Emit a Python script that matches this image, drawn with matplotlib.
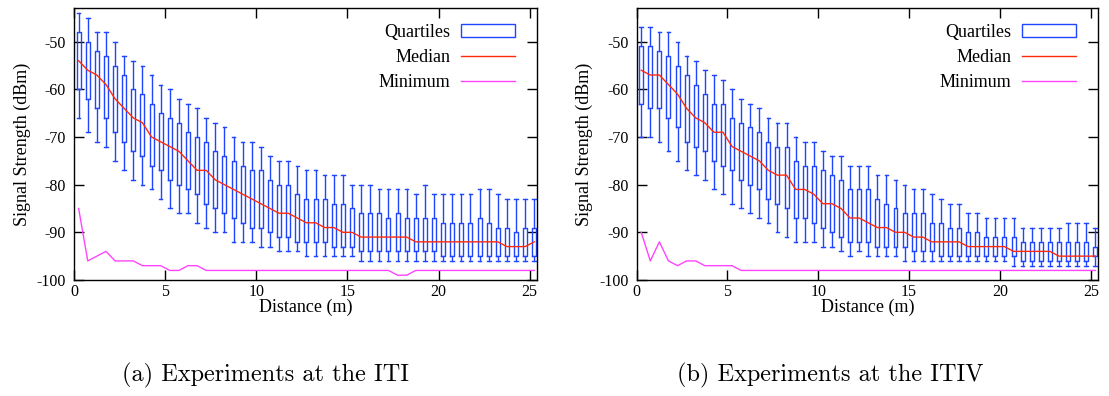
import matplotlib
matplotlib.use("Agg")
import matplotlib.pyplot as plt
from matplotlib.patches import Patch
from matplotlib.lines import Line2D
import numpy as np

# distance bins (m), one box every 0.5 m
distance = np.arange(0.25, 25.3, 0.5)

# --- ITI experiments (dBm) ---
iti_whishi = [-44, -45, -48, -48, -50, -53, -54, -55, -57, -59, -60, -62, -63, -64, -66, -67, -68,
              -70, -71, -71, -72, -74, -75, -75, -76, -77, -77, -78, -78, -78, -80, -80, -80, -81,
              -81, -81, -81, -82, -80, -82, -82, -82, -82, -82, -81, -81, -82, -83, -83, -83, -83]
iti_q3 = [-48, -50, -52, -53, -55, -57, -60, -61, -63, -65, -66, -67, -69, -70, -71, -73, -74,
          -75, -76, -77, -77, -79, -80, -80, -82, -83, -83, -83, -84, -84, -85, -86, -86, -86,
          -87, -86, -87, -87, -87, -87, -88, -88, -88, -88, -87, -88, -89, -89, -90, -89, -89]
iti_q1 = [-60, -62, -64, -66, -69, -71, -73, -74, -76, -77, -79, -80, -81, -82, -84, -85, -86,
          -87, -88, -89, -89, -90, -91, -91, -92, -92, -92, -92, -93, -93, -93, -94, -94, -94,
          -94, -94, -94, -94, -94, -94, -95, -95, -95, -95, -95, -95, -95, -95, -95, -95, -95]
iti_whislo = [-66, -69, -71, -72, -75, -77, -79, -80, -81, -83, -85, -86, -86, -88, -89, -90, -90,
              -92, -92, -92, -93, -93, -94, -94, -94, -95, -95, -95, -95, -95, -95, -96, -96, -96,
              -96, -96, -96, -96, -96, -96, -96, -96, -96, -96, -96, -96, -96, -96, -96, -96, -96]
iti_median = [-54, -56, -57, -59, -62, -64, -66, -67, -70, -71, -72, -73, -75, -77, -77, -79, -80,
              -81, -82, -83, -84, -85, -86, -86, -87, -88, -88, -89, -89, -90, -90, -91, -91, -91,
              -91, -91, -91, -92, -92, -92, -92, -92, -92, -92, -92, -92, -92, -93, -93, -93, -92]
iti_minimum = [-85, -96, -95, -94, -96, -96, -96, -97, -97, -97, -98, -98, -97, -97, -98, -98, -98,
               -98, -98, -98, -98, -98, -98, -98, -98, -98, -98, -98, -98, -98, -98, -98, -98, -98,
               -98, -99, -99, -98, -98, -98, -98, -98, -98, -98, -98, -98, -98, -98, -98, -98, -98]

# --- ITIV experiments (dBm) ---
itiv_whishi = [-47, -47, -48, -48, -50, -53, -54, -56, -57, -58, -60, -62, -63, -64, -66, -67, -67,
               -70, -71, -71, -73, -74, -74, -76, -76, -76, -78, -78, -79, -80, -81, -81, -82, -83,
               -84, -84, -86, -86, -87, -87, -87, -87, -89, -89, -89, -89, -89, -88, -88, -88, -89]
itiv_q3 = [-51, -51, -52, -53, -55, -57, -59, -61, -63, -63, -66, -67, -68, -69, -71, -72, -72,
           -75, -76, -76, -77, -78, -79, -81, -81, -81, -83, -84, -85, -86, -86, -86, -88, -88,
           -89, -89, -90, -90, -91, -91, -91, -91, -92, -92, -92, -92, -92, -92, -92, -92, -93]
itiv_q1 = [-63, -64, -64, -66, -68, -71, -72, -73, -75, -76, -77, -79, -80, -81, -83, -84, -85,
           -87, -87, -88, -89, -90, -91, -92, -92, -92, -93, -93, -93, -93, -94, -94, -94, -95,
           -95, -95, -95, -95, -95, -95, -95, -95, -96, -96, -96, -96, -96, -96, -96, -96, -95]
itiv_whislo = [-70, -70, -71, -73, -75, -77, -78, -79, -81, -82, -84, -85, -86, -87, -88, -90, -91,
               -92, -92, -92, -93, -93, -94, -95, -94, -95, -95, -95, -95, -96, -96, -96, -96, -96,
               -96, -96, -96, -96, -96, -96, -96, -97, -97, -97, -97, -97, -97, -97, -97, -97, -97]
itiv_median = [-56, -57, -57, -59, -61, -64, -66, -67, -69, -69, -72, -73, -74, -75, -77, -78, -78,
               -81, -81, -82, -84, -84, -85, -87, -87, -88, -89, -89, -90, -90, -91, -91, -92, -92,
               -92, -92, -93, -93, -93, -93, -93, -94, -94, -94, -94, -94, -95, -95, -95, -95, -95]
itiv_minimum = [-90, -96, -92, -96, -97, -96, -96, -97, -97, -97, -97, -98, -98, -98, -98, -98, -98,
                -98, -98, -98, -98, -98, -98, -98, -98, -98, -98, -98, -98, -98, -98, -98, -98, -98,
                -98, -98, -98, -98, -98, -98, -98, -98, -98, -98, -98, -98, -98, -98, -98, -98, -98]

captions = ["(a) Experiments at the ITI", "(b) Experiments at the ITIV"]

BLUE = "#1f45ff"
RED = "#ff2a0a"
MAGENTA = "#ff44ff"

plt.rcParams["font.family"] = ["Liberation Serif", "DejaVu Serif"]
plt.rcParams["axes.unicode_minus"] = False

fig = plt.figure(figsize=(11.09, 3.96), dpi=100)
ax1 = fig.add_axes([0.0668, 0.293, 0.4174, 0.686])
ax2 = fig.add_axes([0.5741, 0.293, 0.4160, 0.686])
caption_x = [0.239, 0.749]

datasets = [
    (ax1, iti_whislo, iti_q1, iti_median, iti_q3, iti_whishi, iti_minimum),
    (ax2, itiv_whislo, itiv_q1, itiv_median, itiv_q3, itiv_whishi, itiv_minimum),
]

for i, (ax, lo, q1, med, q3, hi, mn) in enumerate(datasets):
    stats = [dict(whislo=a, q1=b, med=c, q3=d, whishi=e, fliers=[])
             for a, b, c, d, e in zip(lo, q1, med, q3, hi)]
    ax.bxp(stats, positions=distance, widths=0.22, capwidths=0.2,
           showfliers=False, manage_ticks=False,
           boxprops=dict(color=BLUE, linewidth=1.0),
           whiskerprops=dict(color=BLUE, linewidth=1.0),
           capprops=dict(color=BLUE, linewidth=1.0),
           medianprops=dict(linewidth=0))
    ax.plot(distance, med, color=RED, linewidth=1.0, zorder=3)
    ax.plot(distance, mn, color=MAGENTA, linewidth=1.0, zorder=3)

    ax.set_xlim(0, 25.4)
    ax.set_ylim(-100, -43)
    ax.set_xticks([0, 5, 10, 15, 20, 25])
    ax.set_yticks([-100, -90, -80, -70, -60, -50])
    ax.tick_params(direction="in", length=7, width=1, top=True, right=True,
                   labelsize=11.5)
    ax.tick_params(axis="x", pad=3)
    ax.tick_params(axis="y", pad=6)
    for s in ax.spines.values():
        s.set_linewidth(1.0)
    ax.set_xlabel("Distance (m)", fontsize=13, labelpad=-1)
    ax.set_ylabel("Signal Strength (dBm)", fontsize=13, labelpad=4)

    handles = [Patch(facecolor="white", edgecolor=BLUE, linewidth=1.0),
               Line2D([], [], color=RED, linewidth=1.0),
               Line2D([], [], color=MAGENTA, linewidth=1.0)]
    ax.legend(handles, ["Quartiles", "Median", "Minimum"], loc="upper right",
              bbox_to_anchor=(0.98, 0.99), frameon=False, markerfirst=False,
              fontsize=13, handlelength=3.0, handleheight=0.8,
              handletextpad=0.6, labelspacing=0.45, borderpad=0.2)

    fig.text(caption_x[i], 0.053, captions[i], ha="center", va="center",
             fontsize=17.5, family="cmr10")

fig.savefig("out.png", dpi=100)
